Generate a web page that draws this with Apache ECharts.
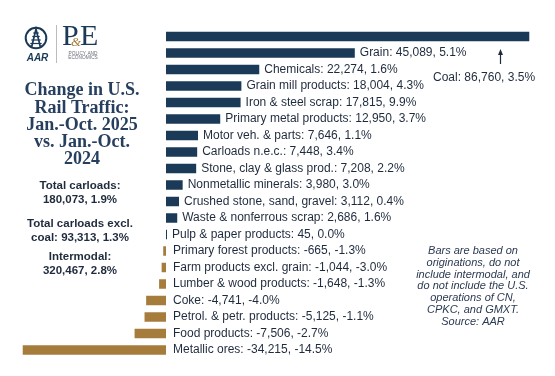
<!DOCTYPE html>
<html>
<head>
<meta charset="utf-8">
<script src="https://cdn.jsdelivr.net/npm/echarts@6/dist/echarts.min.js"></script>
<style>
html,body{margin:0;padding:0;background:#fff;}
#chart{width:555px;height:376px;}
</style>
</head>
<body>
<div id="chart"></div>
<script>
const categories = ["Coal","Grain","Chemicals","Grain mill products","Iron & steel scrap","Primary metal products","Motor veh. & parts","Carloads n.e.c.","Stone, clay & glass prod.","Nonmetallic minerals","Crushed stone, sand, gravel","Waste & nonferrous scrap","Pulp & paper products","Primary forest products","Farm products excl. grain","Lumber & wood products","Coke","Petrol. & petr. products","Food products","Metallic ores"];
const changes = [86760,45089,22274,18004,17815,12950,7646,7448,7208,3980,3112,2686,45,-665,-1044,-1648,-4741,-5125,-7506,-34215];
const pctChanges = [3.5,5.1,1.6,4.3,9.9,3.7,1.1,3.4,2.2,3.0,0.4,1.6,0.0,-1.3,-3.0,-1.3,-4.0,-1.1,-2.7,-14.5];
const titleLines = ["Change in U.S.","Rail Traffic:","Jan.-Oct. 2025","vs. Jan.-Oct.","2024"];
const summaryLines = ["Total carloads:","180,073, 1.9%","Total carloads excl.","coal: 93,313, 1.3%","Intermodal:","320,467, 2.8%"];
const noteLines = ["Bars are based on","originations, do not","include intermodal, and","do not include the U.S.","operations of CN,","CPKC, and GMXT.","Source: AAR"];

const NAVY = '#1b3a57';
const GOLD = '#a67c3d';
const TXT = '#1f2b3d';

function fmt(i){
  return categories[i] + ': ' + changes[i].toLocaleString('en-US') + ', ' + pctChanges[i].toFixed(1) + '%';
}

const data = changes.map((v,i)=>({
  value: v,
  itemStyle: {color: v >= 0 ? NAVY : GOLD},
  label: {show: i !== 0, distance: v >= 0 ? 5 : 7}
}));

const chart = echarts.init(document.getElementById('chart'), null, {renderer:'canvas'});

const graphics = [];
// title
titleLines.forEach((t,i)=>{
  graphics.push({type:'text', x: 82, y: 90.7 + i*17.2,
    style:{text:t, fill:'#263f5e', font:'bold 18px "Liberation Serif", serif', align:'center', verticalAlign:'middle'}});
});
const sumY = [185.7,200,224.3,237.7,256.7,270.7];
summaryLines.forEach((t,i)=>{
  graphics.push({type:'text', x: 80, y: sumY[i],
    style:{text:t, fill:TXT, font:'bold 11.5px "Liberation Sans", Arial, sans-serif', align:'center', verticalAlign:'middle'}});
});
noteLines.forEach((t,i)=>{
  graphics.push({type:'text', x: 473, y: 251 + i*11.8,
    style:{text:t, fill:'#2b3a52', font:'italic 11px "Liberation Sans", Arial, sans-serif', align:'center', verticalAlign:'middle'}});
});
// coal annotation
graphics.push({type:'text', x: 433, y: 78,
  style:{text: fmt(0), fill:TXT, font:'12px "Liberation Sans", Arial, sans-serif', align:'left', verticalAlign:'middle'}});
graphics.push({type:'line', shape:{x1:500.5,y1:64,x2:500.5,y2:53}, style:{stroke:TXT, lineWidth:1.2}});
graphics.push({type:'polygon', shape:{points:[[500.5,49],[498,55],[503,55]]}, style:{fill:TXT}});
// logo
graphics.push({type:'circle', shape:{cx:36,cy:38,r:10.3}, style:{stroke:NAVY, fill:'none', lineWidth:2}});
graphics.push({type:'polyline', shape:{points:[[31.5,47.5],[36,29],[40.5,47.5]]}, style:{stroke:NAVY, fill:'none', lineWidth:1.7}});
[33,36.5,40,43.5].forEach((yy)=>{
  const hw = 1.2 + (yy-31)*0.28;
  graphics.push({type:'line', shape:{x1:36-hw-1,y1:yy,x2:36+hw+1,y2:yy}, style:{stroke:NAVY, lineWidth:1.2}});
});
graphics.push({type:'text', x:37.5, y:58.5, style:{text:'AAR', fill:NAVY, font:'italic bold 10px "Liberation Sans", Arial, sans-serif', align:'center', verticalAlign:'middle'}});
graphics.push({type:'line', shape:{x1:56.5,y1:25,x2:56.5,y2:63}, style:{stroke:'#b8bcc4', lineWidth:1}});
graphics.push({type:'text', x:62, y:37, style:{text:'P', fill:NAVY, font:'30px "Liberation Serif", serif', align:'left', verticalAlign:'middle'}});
graphics.push({type:'text', x:80, y:37, style:{text:'E', fill:NAVY, font:'30px "Liberation Serif", serif', align:'left', verticalAlign:'middle'}});
graphics.push({type:'text', x:76, y:43, style:{text:'&', fill:GOLD, font:'italic 13px "Liberation Serif", serif', align:'center', verticalAlign:'middle'}});
graphics.push({type:'text', x:83, y:53.3, style:{text:'POLICY AND', fill:'#6b6f78', font:'4.8px "Liberation Sans", Arial, sans-serif', align:'center', verticalAlign:'middle'}});
graphics.push({type:'text', x:83, y:57.8, style:{text:'ECONOMICS', fill:'#6b6f78', font:'4.8px "Liberation Sans", Arial, sans-serif', align:'center', verticalAlign:'middle'}});

chart.setOption({
  backgroundColor:'#ffffff',
  animation:false,
  grid:{left:15.25, right:12.15, top:28.25, bottom:17.75, containLabel:false},
  xAxis:{type:'value', min:-36000, max:90000, show:false},
  yAxis:{type:'category', data:categories, inverse:true, show:false},
  series:[{
    type:'bar',
    data:data,
    barWidth:9.5,
    barMinHeight:1,
    label:{
      show:true, position:'right',
      color:TXT, fontSize:12, fontFamily:'"Liberation Sans", Arial, sans-serif',
      formatter:(p)=>fmt(p.dataIndex)
    }
  }],
  graphic: graphics
});
</script>
</body>
</html>
